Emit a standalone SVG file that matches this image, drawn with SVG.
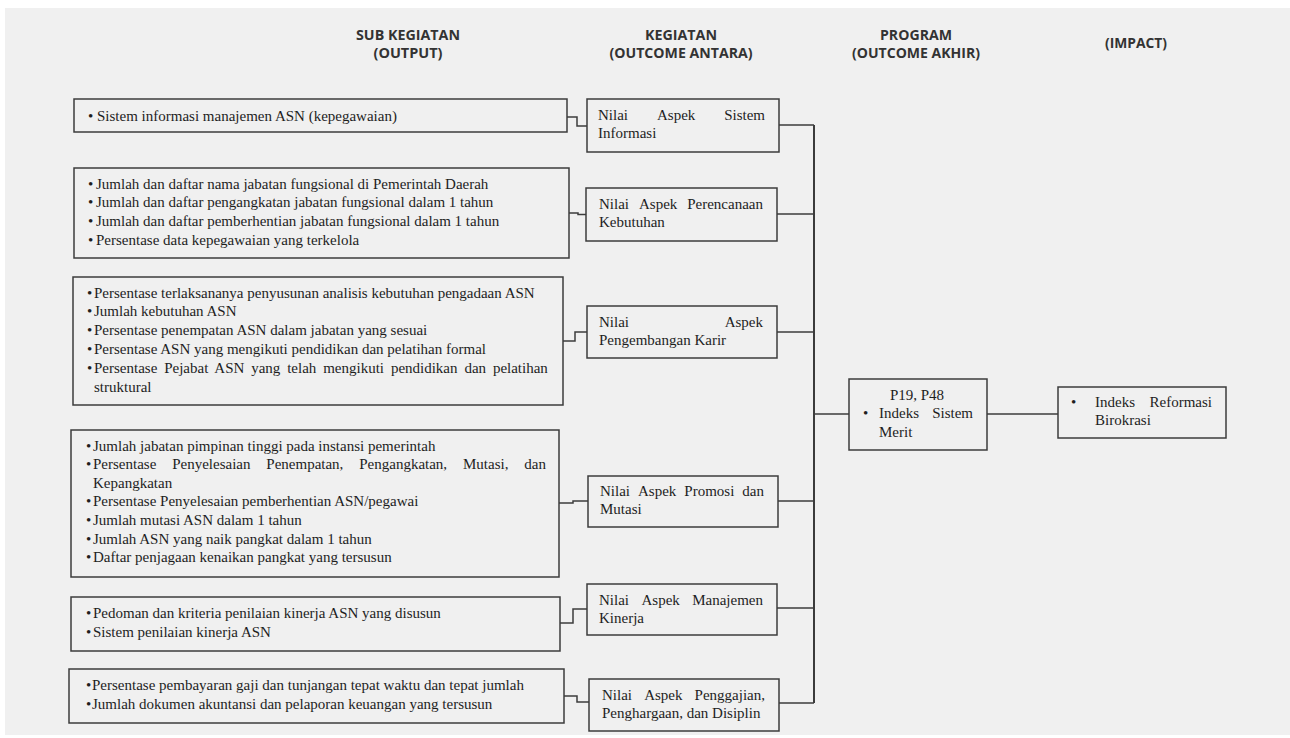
<svg xmlns="http://www.w3.org/2000/svg" width="1290" height="738" viewBox="0 0 1290 738">
<style>
.hd{font-family:"Open Sans","Liberation Sans",sans-serif;font-weight:700;font-size:14px;fill:#333;text-anchor:middle}
.t{font-family:"Liberation Serif","Times New Roman",serif;font-size:15px;fill:#1e1e1e}
.e{text-anchor:end}
.box{fill:none;stroke:#3c3c3c;stroke-width:1.5}
.ln{fill:none;stroke:#3c3c3c;stroke-width:1.5}
</style>
<rect x="0" y="0" width="1290" height="738" fill="#ffffff"/>
<rect x="5" y="8" width="1285" height="727" fill="#f0f0f0"/>

<g id="headers">
<text class="hd" x="408" y="40" textLength="104" lengthAdjust="spacingAndGlyphs">SUB KEGIATAN</text>
<text class="hd" x="408" y="58" textLength="69" lengthAdjust="spacingAndGlyphs">(OUTPUT)</text>
<text class="hd" x="681" y="40" textLength="72" lengthAdjust="spacingAndGlyphs">KEGIATAN</text>
<text class="hd" x="681" y="58" textLength="143" lengthAdjust="spacingAndGlyphs">(OUTCOME ANTARA)</text>
<text class="hd" x="916" y="40" textLength="72" lengthAdjust="spacingAndGlyphs">PROGRAM</text>
<text class="hd" x="916" y="58" textLength="128" lengthAdjust="spacingAndGlyphs">(OUTCOME AKHIR)</text>
<text class="hd" x="1136" y="48" textLength="62" lengthAdjust="spacingAndGlyphs">(IMPACT)</text>
</g>

<g id="connectors">
<path class="ln" d="M567,117 H577 V126 H587"/>
<path class="ln" d="M569,213 H578 V214.5 H586"/>
<path class="ln" d="M563,341 H575 V332 H587"/>
<path class="ln" d="M559,503 H573 V501 H588"/>
<path class="ln" d="M560,623 H573 V609 H587"/>
<path class="ln" d="M564,696 H577 V702 H589"/>
<path class="ln" d="M779,125 H814 M777,214 H814 M777,332 H814 M778,501 H814 M777,608 H814 M779,703 H814"/>
<path class="ln" d="M814,125 V703" style="stroke-width:2"/>
<path class="ln" d="M814,414 H849 M987,414 H1058"/>
</g>

<g id="out1">
<rect class="box" x="74" y="99" width="493" height="33"/>
<text class="t" x="88" y="120.5">•</text>
<text class="t" x="97" y="120.5">Sistem informasi manajemen ASN (kepegawaian)</text>
</g>

<g id="out2">
<rect class="box" x="74" y="168" width="495" height="90"/>
<text class="t" x="88" y="188.5">•</text><text class="t" x="96" y="188.5">Jumlah dan daftar nama jabatan fungsional di Pemerintah Daerah</text>
<text class="t" x="88" y="207.3">•</text><text class="t" x="96" y="207.3">Jumlah dan daftar pengangkatan jabatan fungsional dalam 1 tahun</text>
<text class="t" x="88" y="226.1">•</text><text class="t" x="96" y="226.1">Jumlah dan daftar pemberhentian jabatan fungsional dalam 1 tahun</text>
<text class="t" x="88" y="244.9">•</text><text class="t" x="96" y="244.9">Persentase data kepegawaian yang terkelola</text>
</g>

<g id="out3">
<rect class="box" x="73" y="277" width="490" height="128"/>
<text class="t" x="87" y="297.5">•</text><text class="t" x="94" y="297.5">Persentase terlaksananya penyusunan analisis kebutuhan pengadaan ASN</text>
<text class="t" x="87" y="316.3">•</text><text class="t" x="94" y="316.3">Jumlah kebutuhan ASN</text>
<text class="t" x="87" y="335.1">•</text><text class="t" x="94" y="335.1">Persentase penempatan ASN dalam jabatan yang sesuai</text>
<text class="t" x="87" y="353.9">•</text><text class="t" x="94" y="353.9">Persentase ASN yang mengikuti pendidikan dan pelatihan formal</text>
<text class="t" x="87" y="372.7">•</text><text class="t" x="94" y="372.7" word-spacing="3.1">Persentase Pejabat ASN yang telah mengikuti pendidikan dan pelatihan</text>
<text class="t" x="94" y="391.5">struktural</text>
</g>

<g id="out4">
<rect class="box" x="71" y="430" width="488" height="147"/>
<text class="t" x="86" y="450.5">•</text><text class="t" x="93" y="450.5">Jumlah jabatan pimpinan tinggi pada instansi pemerintah</text>
<text class="t" x="86" y="469.1">•</text><text class="t" x="93" y="469.1" word-spacing="12.1">Persentase Penyelesaian Penempatan, Pengangkatan, Mutasi, dan</text>
<text class="t" x="93" y="487.7">Kepangkatan</text>
<text class="t" x="86" y="506.3">•</text><text class="t" x="93" y="506.3">Persentase Penyelesaian pemberhentian ASN/pegawai</text>
<text class="t" x="86" y="524.9">•</text><text class="t" x="93" y="524.9">Jumlah mutasi ASN dalam 1 tahun</text>
<text class="t" x="86" y="543.5">•</text><text class="t" x="93" y="543.5">Jumlah ASN yang naik pangkat dalam 1 tahun</text>
<text class="t" x="86" y="562.1">•</text><text class="t" x="93" y="562.1">Daftar penjagaan kenaikan pangkat yang tersusun</text>
</g>

<g id="out5">
<rect class="box" x="71" y="597" width="489" height="54"/>
<text class="t" x="86" y="618">•</text><text class="t" x="93" y="618">Pedoman dan kriteria penilaian kinerja ASN yang disusun</text>
<text class="t" x="86" y="636.5">•</text><text class="t" x="93" y="636.5">Sistem penilaian kinerja ASN</text>
</g>

<g id="out6">
<rect class="box" x="69" y="669" width="495" height="54"/>
<text class="t" x="86" y="690">•</text><text class="t" x="92" y="690">Persentase pembayaran gaji dan tunjangan tepat waktu dan tepat jumlah</text>
<text class="t" x="86" y="708.5">•</text><text class="t" x="92" y="708.5">Jumlah dokumen akuntansi dan pelaporan keuangan yang tersusun</text>
</g>

<g id="keg1">
<rect class="box" x="587" y="99" width="192" height="53"/>
<text class="t" x="598" y="120">Nilai</text><text class="t" x="657" y="120">Aspek</text><text class="t e" x="765" y="120">Sistem</text>
<text class="t" x="598" y="138">Informasi</text>
</g>

<g id="keg2">
<rect class="box" x="586" y="188" width="191" height="53"/>
<text class="t" x="599" y="209">Nilai</text><text class="t" x="639" y="209">Aspek</text><text class="t e" x="763" y="209">Perencanaan</text>
<text class="t" x="599" y="227">Kebutuhan</text>
</g>

<g id="keg3">
<rect class="box" x="587" y="306" width="190" height="52"/>
<text class="t" x="599" y="327">Nilai</text><text class="t e" x="763" y="327">Aspek</text>
<text class="t" x="599" y="345">Pengembangan Karir</text>
</g>

<g id="keg4">
<rect class="box" x="588" y="476" width="190" height="51"/>
<text class="t" x="600" y="496">Nilai</text><text class="t" x="638" y="496">Aspek</text><text class="t" x="684.3" y="496">Promosi</text><text class="t e" x="764" y="496">dan</text>
<text class="t" x="600" y="514">Mutasi</text>
</g>

<g id="keg5">
<rect class="box" x="587" y="584" width="190" height="51"/>
<text class="t" x="599" y="605">Nilai</text><text class="t" x="641.5" y="605">Aspek</text><text class="t e" x="763" y="605">Manajemen</text>
<text class="t" x="599" y="623">Kinerja</text>
</g>

<g id="keg6">
<rect class="box" x="589" y="679" width="190" height="52"/>
<text class="t" x="602" y="700">Nilai</text><text class="t" x="644.2" y="700">Aspek</text><text class="t e" x="765" y="700">Penggajian,</text>
<text class="t" x="602" y="718">Penghargaan, dan Disiplin</text>
</g>

<g id="program">
<rect class="box" x="849" y="379" width="138" height="71"/>
<text class="t" x="917" y="400" text-anchor="middle">P19, P48</text>
<text class="t" x="863" y="418">•</text>
<text class="t" x="879" y="418">Indeks</text><text class="t e" x="973" y="418">Sistem</text>
<text class="t" x="879" y="437">Merit</text>
</g>

<g id="impact">
<rect class="box" x="1058" y="387" width="168" height="51"/>
<text class="t" x="1071" y="407">•</text>
<text class="t" x="1095" y="407">Indeks</text><text class="t e" x="1212" y="407">Reformasi</text>
<text class="t" x="1095" y="425">Birokrasi</text>
</g>
</svg>
